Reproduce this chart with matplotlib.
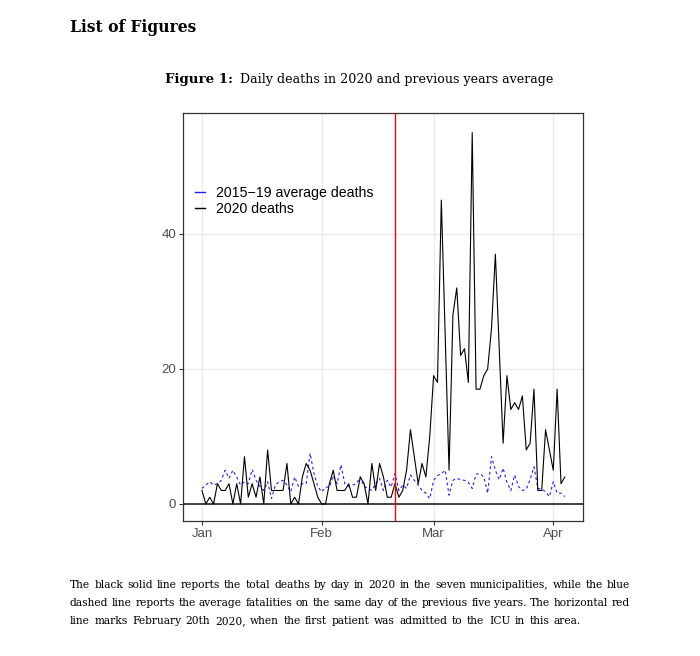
import numpy as np
import pandas as pd
import matplotlib
matplotlib.use('Agg')
import matplotlib.pyplot as plt
import matplotlib.dates as mdates
from matplotlib.lines import Line2D

# daily values, 1 Jan 2020 .. 4 Apr 2020
start = '2020-01-01'
deaths_2020 = [2, 0, 1, 0, 3, 2, 2, 3, 0, 3, 0, 7, 1, 3, 1, 4, 0, 8, 2, 2,
               2, 2, 6, 0, 1, 0, 4, 6, 5, 3, 1, 0, 0, 3, 5, 2, 2, 2, 3, 1,
               1, 4, 3, 0, 6, 2, 6, 4, 1, 1, 3, 1, 2, 5, 11, 7, 3, 6, 4, 10,
               19, 18, 45, 25, 5, 28, 32, 22, 23, 18, 55, 17, 17, 19, 20, 26, 37, 23, 9, 19,
               14, 15, 14, 16, 8, 9, 17, 2, 2, 11, 8, 5, 17, 3, 4]
avg_2015_19 = [2.3, 2.8, 3.3, 2.8, 3.0, 3.5, 5.0, 3.8, 5.0, 4.0, 2.8, 3.3, 3.0, 5.1, 3.5, 2.6, 2.0, 3.3, 0.8, 2.8,
               3.3, 3.5, 2.8, 1.8, 4.0, 2.6, 3.0, 3.0, 7.5, 4.5, 2.6, 1.8, 2.5, 2.5, 4.2, 3.0, 5.8, 3.0, 2.6, 2.8,
               3.0, 4.0, 2.6, 2.3, 2.0, 3.0, 3.8, 2.0, 3.5, 2.5, 4.5, 2.0, 2.8, 2.3, 4.3, 3.5, 2.8, 2.0, 1.6, 0.8,
               3.5, 4.2, 4.5, 5.0, 1.3, 3.5, 3.8, 3.6, 3.5, 3.2, 2.3, 4.4, 4.5, 4.0, 1.6, 7.0, 5.0, 3.6, 5.3, 3.2,
               2.0, 4.3, 2.6, 2.0, 2.2, 3.6, 5.5, 2.3, 2.2, 1.8, 1.1, 3.3, 1.6, 1.6, 1.1]
icu_date = '2020-02-20'
legend_labels = ['2015\u221219 average deaths', '2020 deaths']

days = pd.date_range(start, periods=len(deaths_2020))

W, H = 700, 656
fig = plt.figure(figsize=(7, 6.56), dpi=100)
fig.patch.set_facecolor('white')

serif = 'DejaVu Serif'
sans = 'Liberation Sans'

fig.text(70/W, 1 - 28/H, 'List of Figures', family=serif, weight='bold',
         fontsize=11.2, ha='left', va='center')
fig.text(165/W, 1 - 79/H, 'Figure 1:', family=serif, weight='bold',
         fontsize=9.6, ha='left', va='center')
fig.text(240/W, 1 - 79/H, 'Daily deaths in 2020 and previous years average',
         family=serif, fontsize=9.1, ha='left', va='center')

caption = [
    'The black solid line reports the total deaths by day in 2020 in the seven municipalities, while the blue',
    'dashed line reports the average fatalities on the same day of the previous five years. The horizontal red',
    'line marks February 20th 2020, when the first patient was admitted to the ICU in this area.',
]
renderer = fig.canvas.get_renderer()
x0, x1 = 70, 630
cap_size = 7.7
for i, line in enumerate(caption):
    y = 1 - (585 + 18*i)/H
    words = line.split()
    texts = [fig.text(0, y, w, family=serif, fontsize=cap_size, ha='left', va='center')
             for w in words]
    widths = [t.get_window_extent(renderer).width for t in texts]
    if i < len(caption) - 1:
        gap = (x1 - x0 - sum(widths)) / (len(words) - 1)
    else:
        gap = (x1 - x0 - sum(widths)) / (len(words) - 1) * 0.0 + 4.5
    x = x0
    for t, w in zip(texts, widths):
        t.set_x(x / W)
        x += w + gap

ax = fig.add_axes([183/W, 1 - 521/H, 400/W, 408/H])
ax.set_facecolor('white')

ax.plot(days, avg_2015_19, color='#2020ee', lw=0.8, ls=(0, (2.5, 2.5)))
ax.plot(days, deaths_2020, color='black', lw=0.8)
ax.axhline(0, color='#333333', lw=1.3, zorder=1)
ax.axvline(pd.Timestamp(icu_date), color='#ff0000', lw=1.0, zorder=3)

ax.set_ylim(-2.52, 57.9)
ax.set_xlim(days[0] - pd.Timedelta(days=4.92), days[0] + pd.Timedelta(days=98.7))
ax.set_yticks([0, 20, 40])
ax.xaxis.set_major_locator(mdates.MonthLocator())
ax.xaxis.set_major_formatter(mdates.DateFormatter('%b'))

ax.grid(True, color='#ebebeb', lw=1.0, zorder=0)
ax.set_axisbelow(True)
for s in ax.spines.values():
    s.set_color('#333333')
    s.set_linewidth(0.9)
ax.tick_params(axis='both', length=3, width=0.8, color='#333333',
               labelcolor='#4d4d4d', labelsize=9.5, pad=2)
for lab in ax.get_xticklabels() + ax.get_yticklabels():
    lab.set_family(sans)

handles = [Line2D([], [], color='#2020ee', lw=1.0),
           Line2D([], [], color='black', lw=1.0)]
ax.legend(handles, legend_labels, loc='upper left', bbox_to_anchor=(0.015, 0.835),
          frameon=False, handlelength=0.75, handletextpad=0.75, labelspacing=0.12,
          prop={'family': sans, 'size': 10.2}, borderaxespad=0)

fig.savefig('out.png', dpi=100, facecolor='white')
